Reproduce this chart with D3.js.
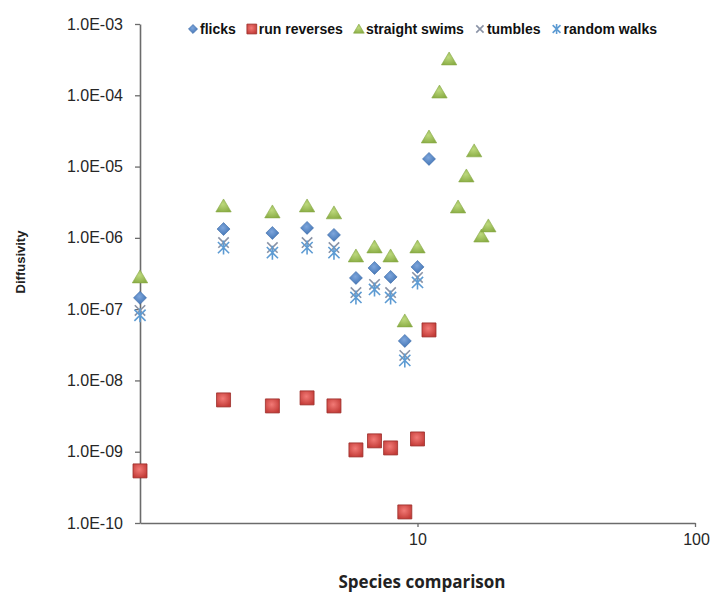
<!DOCTYPE html>
<html>
<head>
<meta charset="utf-8">
<script src="https://cdn.jsdelivr.net/npm/d3@7"></script>
<style>
body { margin: 0; background: #fff; }
svg text { font-family: "Liberation Sans", Arial, sans-serif; }
</style>
</head>
<body>
<div id="chart"></div>
<script>
// species comparison index (x) for each value position
var species = [1, 2, 3, 4, 5, 6, 7, 8, 9, 10, 11, 12, 13, 14, 15, 16, 17, 18];

var flicks = [1.44e-7, 1.33e-6, 1.17e-6, 1.38e-6, 1.10e-6, 2.74e-7, 3.78e-7, 2.83e-7, 3.58e-8, 3.91e-7, 1.28e-5];
var runReverses = [5.38e-10, 5.33e-9, 4.39e-9, 5.69e-9, 4.39e-9, 1.06e-9, 1.42e-9, 1.13e-9, 1.43e-10, 1.51e-9, 5.11e-8];
var straightSwims = [2.83e-7, 2.80e-6, 2.31e-6, 2.80e-6, 2.24e-6, 5.57e-7, 7.45e-7, 5.57e-7, 6.83e-8, 7.45e-7,
                     2.60e-5, 1.11e-4, 3.23e-4, 2.71e-6, 7.38e-6, 1.66e-5, 1.06e-6, 1.47e-6];
var tumbles = [9.6e-8, 8.6e-7, 7.3e-7, 8.6e-7, 7.3e-7, 1.71e-7, 2.22e-7, 1.71e-7, 2.24e-8, 2.78e-7];
var randomWalks = [8.2e-8, 7.3e-7, 6.2e-7, 7.3e-7, 6.2e-7, 1.46e-7, 1.89e-7, 1.46e-7, 1.91e-8, 2.37e-7];

var seriesNames = ["flicks", "run reverses", "straight swims", "tumbles", "random walks"];
var yTicks = [1e-10, 1e-9, 1e-8, 1e-7, 1e-6, 1e-5, 1e-4, 1e-3];
var xTicks = [10, 100];

var width = 712;
var height = 595;

var series = [
  {name: seriesNames[0], values: flicks, type: "diamond"},
  {name: seriesNames[1], values: runReverses, type: "square"},
  {name: seriesNames[2], values: straightSwims, type: "triangle"},
  {name: seriesNames[3], values: tumbles, type: "x"},
  {name: seriesNames[4], values: randomWalks, type: "star"}
];

var svg = d3.select("#chart").append("svg")
  .attr("width", width)
  .attr("height", height);

var defs = svg.append("defs");
function grad(id, c0, c1) {
  var gr = defs.append("radialGradient").attr("id", id)
    .attr("cx", "45%").attr("cy", "40%").attr("r", "65%");
  gr.append("stop").attr("offset", "0%").attr("stop-color", c0);
  gr.append("stop").attr("offset", "100%").attr("stop-color", c1);
}
grad("gBlue", "#7ea6dc", "#3f72b3");
grad("gRed", "#f27a76", "#c23a36");
grad("gGreen", "#bcd87c", "#8aad45");

var x = d3.scaleLog().domain([1, 100]).range([140, 695]);
var y = d3.scaleLog().domain([1e-10, 1e-3]).range([523, 24]);

// marker shapes, s = half size
function shape(type, s) {
  var p = d3.path();
  if (type == "diamond") {
    p.moveTo(0, -s); p.lineTo(s, 0); p.lineTo(0, s); p.lineTo(-s, 0); p.closePath();
  } else if (type == "square") {
    p.rect(-s, -s, 2 * s, 2 * s);
  } else if (type == "triangle") {
    p.moveTo(0, -s); p.lineTo(s * 1.1, s * 0.85); p.lineTo(-s * 1.1, s * 0.85); p.closePath();
  } else if (type == "x") {
    p.moveTo(-s * 0.8, -s * 0.8); p.lineTo(s * 0.8, s * 0.8);
    p.moveTo(s * 0.8, -s * 0.8); p.lineTo(-s * 0.8, s * 0.8);
  } else {
    p.moveTo(-s * 0.8, -s * 0.8); p.lineTo(s * 0.8, s * 0.8);
    p.moveTo(s * 0.8, -s * 0.8); p.lineTo(-s * 0.8, s * 0.8);
    p.moveTo(0, -s); p.lineTo(0, s);
  }
  return p.toString();
}

var styles = {
  diamond: {fill: "url(#gBlue)", stroke: "#3a6aa8", sw: 0.6, size: 6.5},
  square: {fill: "url(#gRed)", stroke: "#9c2e2b", sw: 0.8, size: 7},
  triangle: {fill: "url(#gGreen)", stroke: "#86a844", sw: 0.6, size: 7},
  x: {fill: "none", stroke: "#8a93a6", sw: 1.6, size: 6.5},
  star: {fill: "none", stroke: "#5d9bd3", sw: 1.6, size: 7}
};

// axes
var yAxis = d3.axisLeft(y)
  .tickValues(yTicks)
  .tickSize(5)
  .tickSizeOuter(0)
  .tickPadding(12)
  .tickFormat(function(d) {
    var e = Math.round(Math.log10(d));
    return "1.0E" + (e < 0 ? "-" : "+") + String(Math.abs(e)).padStart(2, "0");
  });

var xAxis = d3.axisBottom(x)
  .tickValues(xTicks)
  .tickSize(4)
  .tickSizeOuter(0)
  .tickPadding(7)
  .tickFormat(d3.format("d"));

var gy = svg.append("g").attr("transform", "translate(140,0)").call(yAxis);
var gx = svg.append("g").attr("transform", "translate(0,523)").call(xAxis);

[gx, gy].forEach(function(g) {
  g.select(".domain").attr("stroke", "#6b6b6b").attr("stroke-width", 1.6);
  g.selectAll(".tick line").attr("stroke", "#6b6b6b").attr("stroke-width", 1.3);
  g.selectAll(".tick text")
    .attr("fill", "#262626")
    .style("font-family", "'Liberation Sans', Arial, sans-serif")
    .style("font-size", "16px");
});
// keep the last label inside the picture
gx.selectAll(".tick text").filter(function(d) { return d == 100; }).attr("dx", 1);

// points
series.forEach(function(s) {
  var st = styles[s.type];
  svg.append("g")
    .selectAll("path")
    .data(s.values)
    .join("path")
      .attr("transform", function(d, i) { return "translate(" + x(species[i]) + "," + y(d) + ")"; })
      .attr("d", shape(s.type, st.size))
      .attr("fill", st.fill)
      .attr("stroke", st.stroke)
      .attr("stroke-width", st.sw);
});

// legend
var leg = svg.append("g").attr("class", "legend");
var lx = 193;
series.forEach(function(s) {
  var st = styles[s.type];
  leg.append("path")
    .attr("transform", "translate(" + lx + ",29)")
    .attr("d", shape(s.type, st.size * 0.7))
    .attr("fill", st.fill)
    .attr("stroke", st.stroke)
    .attr("stroke-width", st.sw);
  var t = leg.append("text")
    .attr("x", lx + 7)
    .attr("y", 34)
    .attr("font-size", 14)
    .attr("font-weight", "bold")
    .attr("fill", "#111")
    .text(s.name);
  lx = lx + 7 + t.node().getComputedTextLength() + 16;
});

// axis titles
svg.append("text")
  .attr("transform", "translate(25,262) rotate(-90)")
  .attr("text-anchor", "middle")
  .attr("font-size", 13)
  .attr("font-weight", "bold")
  .attr("fill", "#222")
  .text("Diffusivity");

svg.append("text")
  .attr("x", 422)
  .attr("y", 588)
  .attr("text-anchor", "middle")
  .style("font-family", "'Open Sans', sans-serif")
  .attr("font-size", 17)
  .attr("font-weight", "bold")
  .attr("fill", "#222")
  .text("Species comparison");
</script>
</body>
</html>
